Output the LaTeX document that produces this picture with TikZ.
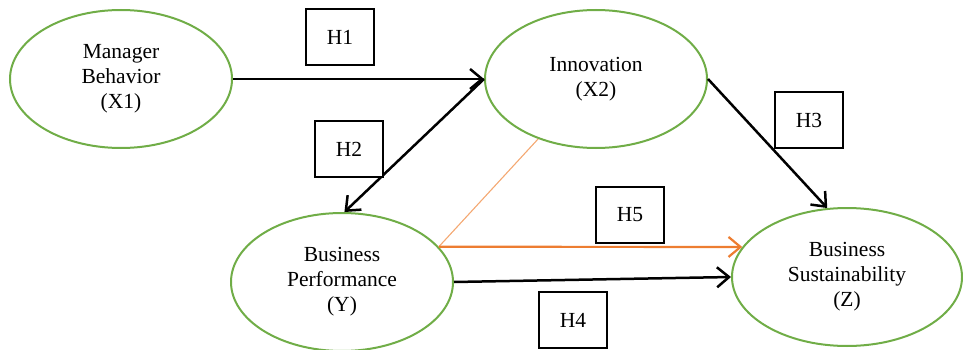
\documentclass[tikz,border=0pt]{standalone}
\usepackage{fontspec}
\setmainfont{Liberation Serif}
\usetikzlibrary{shapes.geometric,arrows.meta}
\definecolor{egreen}{HTML}{70AD47}
\definecolor{eorange}{HTML}{ED7D31}
\definecolor{lorange}{HTML}{F4A872}
\begin{document}
\begin{tikzpicture}[x=1pt,y=-1pt,
  construct/.style={ellipse,draw=egreen,line width=2pt,minimum width=222pt,minimum height=138pt,inner sep=0pt,align=center,font=\fontsize{21.5}{25}\selectfont},
  hbox/.style={draw=black,line width=1.3pt,fill=white,minimum width=68pt,minimum height=56pt,inner sep=0pt,font=\fontsize{21.5}{25}\selectfont},
  conn/.style={line width=2.5pt,-{Straight Barb[length=12pt,width=20pt,line width=2.5pt]}},
  oconn/.style={draw=eorange,line width=2.2pt,-{Straight Barb[length=12pt,width=20pt,line width=2.2pt]}}]
\useasboundingbox (0,0) rectangle (963,350);
\node[construct] (x1) at (121,79) {Manager\\Behavior\\(X1)};
\node[construct] (x2) at (596,79) {Innovation\\(X2)};
\node[construct] (yy) at (342,282) {Business\\Performance\\(Y)};
\node[construct,minimum width=230pt] (zz) at (847,277) {Business\\Sustainability\\(Z)};
\draw[conn] (x1.east) -- (x2.west);
\draw[conn] (x2.west) -- (yy.88);
\draw[conn] (x2.east) -- (zz.106);
\draw[draw=lorange,line width=1.1pt] (x2.226) -- (yy.20);
\draw[oconn] (yy.20) -- (zz.164);
\draw[conn] (yy.east) -- (zz.west);
\node[hbox] (h1) at (340,37) {H1};
\node[hbox] (h2) at (349,149) {H2};
\node[hbox] (h3) at (809,120) {H3};
\node[hbox] (h5) at (630,215) {H5};
\node[hbox] (h4) at (573,320) {H4};
\end{tikzpicture}
\end{document}
